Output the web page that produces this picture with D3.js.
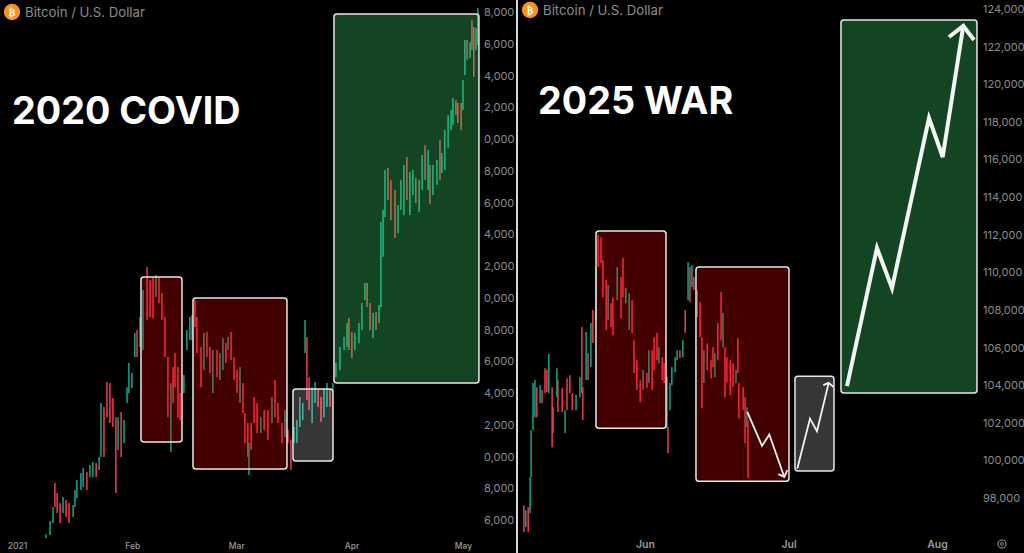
<!DOCTYPE html>
<html><head><meta charset="utf-8">
<script src="https://cdn.jsdelivr.net/npm/d3@7/dist/d3.min.js"></script>
<style>html,body{margin:0;padding:0;background:#000;overflow:hidden}svg{display:block}</style>
</head><body><div id="c"></div>
<script>
// ---------- Left panel data (thousands USD; days since 1 Jan 2021)
const leftDays=[7.8,8.9,9.7,10.2,10.8,11.6,12.4,13.2,14.0,15.1,
15.6,16.1,17.2,17.8,18.8,19.6,20.4,21.3,22.1,22.6,
23.4,24.2,25.0,25.8,26.6,27.2,28.0,28.8,29.6,30.1,
30.9,31.7,32.3,33.1,33.9,35.0,35.8,36.6,37.4,38.2,
39.0,39.8,40.6,41.4,42.0,42.5,43.3,43.9,44.9,45.7,
46.5,47.1,47.9,48.4,49.5,50.3,51.1,51.9,52.7,53.8,
54.6,55.4,56.2,56.8,57.6,58.4,59.2,60.0,60.8,61.3,
62.1,62.4,63.0,63.8,64.6,65.6,66.5,67.5,68.6,69.4,
70.2,71.3,72.1,72.9,73.7,74.5,75.3,76.1,76.9,77.5,
78.0,78.6,79.4,80.2,81.0,81.8,82.6,83.4,84.2,85.0,
85.8,86.9,88.0,88.8,89.3,90.1,90.9,92.0,92.8,93.6,
94.2,95.0,95.8,96.6,97.4,97.9,98.5,99.0,99.8,100.6,
101.7,102.5,103.3,104.1,104.9,105.7,106.5,107.3,108.2,109.0,
109.8,110.6,111.1,111.9,113.0,113.8,114.3,115.1,116.0,116.8,
117.3,118.1,118.6,119.5,120.0,120.5,121.1,121.9,122.4,122.9,
123.5,124.0];
const leftHighs=[25.11,25.93,26.82,28.33,27.70,27.07,27.45,27.26,27.07,26.94,
27.89,28.52,28.96,29.27,29.02,29.46,29.65,29.59,29.97,33.37,
33.12,34.69,34.63,33.68,32.48,32.48,32.80,32.30,34.37,35.89,
35.26,37.78,37.97,38.79,40.49,41.93,41.12,41.31,41.43,41.24,
40.30,38.79,36.27,34.63,35.63,36.52,35.63,34.00,35.13,37.97,
38.79,38.91,39.86,38.79,36.89,37.78,37.84,36.89,36.71,36.71,
36.52,37.46,37.15,37.53,37.84,36.27,35.45,35.63,34.63,32.74,
32.11,30.85,32.11,33.75,33.37,32.48,32.93,32.93,33.75,34.82,
33.37,32.11,32.93,31.67,31.04,31.86,32.30,33.75,33.37,38.60,
37.53,35.00,34.37,34.69,34.19,33.75,34.31,34.63,34.19,34.63,
35.89,36.89,37.53,38.41,38.72,37.84,37.78,38.41,39.67,40.93,
40.93,39.67,39.04,39.10,39.54,44.77,45.53,48.05,48.17,47.42,
46.79,45.84,47.42,48.36,48.87,47.92,48.05,47.54,47.42,48.99,
49.62,49.31,48.36,48.36,48.68,49.94,49.12,50.57,51.51,51.83,
52.58,52.46,52.27,52.27,53.72,56.24,56.24,56.11,57.50,57.06,
56.99,58.25];
const leftLows=[24.86,25.05,25.81,26.82,26.44,25.81,26.44,26.19,25.81,26.19,
26.82,27.39,27.89,28.08,27.89,28.70,28.70,28.70,29.15,29.97,
29.97,32.48,32.11,31.86,27.70,30.41,29.97,30.85,33.37,34.00,
34.31,36.27,36.27,36.89,36.71,38.60,38.79,38.72,40.05,39.67,
38.60,36.27,32.48,30.28,33.37,34.37,32.48,32.30,34.00,36.71,
37.34,37.34,38.16,36.52,34.37,35.45,36.27,35.26,34.00,35.00,
34.82,35.45,35.89,36.71,36.08,34.82,34.00,33.37,32.74,30.85,
29.97,28.83,30.41,32.11,31.48,31.48,31.67,31.04,32.11,32.48,
32.11,30.85,31.22,30.85,29.15,30.85,30.85,31.86,32.30,36.52,
33.56,32.93,32.11,33.37,33.12,32.17,32.48,33.12,33.12,34.19,
35.00,35.45,36.71,36.89,36.71,36.20,36.71,37.15,37.97,39.86,
39.42,37.97,37.46,37.97,38.41,39.42,42.57,45.08,46.16,44.90,
43.76,44.08,45.53,45.21,46.16,45.21,46.47,45.97,45.40,46.79,
47.42,46.79,45.91,46.47,47.10,47.42,47.86,48.05,49.43,50.57,
50.88,51.51,51.01,50.57,51.83,54.03,54.98,55.10,55.61,53.91,
55.61,55.92];
const leftSides=["uuuddduddu","uuuuduuduu","ddddduduuu","uuduudddud","ddduddddu"+"u",
"uuddduddud","uududddudd","duddduddud","ddudduuuuu","dduudduudu",
"uuuudduuuu","dduduuuudd","duuuduuduu","duduuduuuu","uddduududd","uu"].join("");
const leftTickValues=[58,56,54,52,50,48,46,44,42,40,38,36,34,32,30,28,26];
const leftTickLabels=["8,000","6,000","4,000","2,000","0,000","8,000","6,000","4,000","2,000","0,000","8,000","6,000","4,000","2,000","0,000","8,000","6,000"];
const leftTimeTicks=[0,31,59,90,120];
const leftTimeLabels=["2021","Feb","Mar","Apr","May"];

// ---------- Right panel data (thousands USD; days since 1 Jun 2025)
const rightDays=[-25.3,-24.9,-24.4,-24.0,-23.8,-23.4,-23.0,-22.6,-21.9,-21.5,
-20.9,-20.5,-20.1,-19.4,-19.2,-18.4,-18.2,-17.3,-16.7,-16.3,
-15.7,-15.2,-14.4,-13.6,-13.2,-13.0,-12.3,-11.9,-11.3,-10.9,
-10.2,-9.8,-9.2,-8.8,-8.1,-7.7,-7.1,-6.7,-5.8,-5.0,
-4.6,-4.0,-3.3,-2.7,-2.3,-1.7,-1.0,-0.4,0.4,0.8,
1.5,1.9,2.5,2.9,3.6,4.0,4.6,4.8,5.2,5.6,
6.3,6.7,7.3,7.9,8.4,9.0,9.4,9.8,10.2,10.9,
11.5,11.9,12.3,13.0,13.8,14.2,14.6,15.2,15.9,16.3,
16.7,17.1,17.8,18.4,19.0,19.4,19.6,20.5,20.9,21.3,
21.5];
const rightHighs=[97.62,97.35,97.51,99.11,101.61,104.11,104.27,103.89,104.00,103.74,
104.90,104.80,105.65,103.89,102.83,104.90,104.27,103.84,102.67,104.37,
104.53,103.58,103.47,104.42,107.09,103.89,106.82,105.70,107.30,107.99,
110.28,111.98,111.87,110.65,109.59,109.32,108.36,108.68,110.28,109.75,
110.76,109.16,108.89,108.52,106.39,105.33,104.27,104.80,104.64,105.86,
105.86,106.55,106.77,106.02,105.49,105.17,104.42,101.77,104.11,104.96,
105.49,105.86,105.86,106.39,107.99,110.54,110.28,110.38,109.75,109.05,
108.41,106.55,105.86,106.22,105.33,106.02,105.70,107.30,108.95,107.83,
106.02,105.49,105.33,105.17,104.80,106.50,104.11,103.89,103.36,102.83,
102.14];
const rightLows=[96.18,96.45,96.18,97.19,99.11,101.61,102.30,102.30,103.04,103.04,
103.58,103.63,103.58,100.70,101.45,103.36,102.57,102.57,101.45,102.67,
103.58,102.67,102.67,103.36,103.58,102.14,104.27,104.27,104.96,106.24,
107.46,110.28,110.49,108.68,106.93,107.46,107.09,106.66,108.52,107.56,
108.68,108.36,106.93,106.77,104.64,103.74,103.10,103.74,103.84,104.11,
103.74,104.80,105.33,105.17,104.27,104.11,101.71,100.38,102.67,104.00,
104.69,105.33,105.44,105.49,106.77,108.52,108.42,109.21,109.05,107.62,
106.55,102.78,104.11,104.80,104.37,104.96,104.42,105.33,106.39,106.02,
103.36,104.16,103.47,103.89,104.11,104.64,102.24,102.67,100.92,101.77,
99.06];
const rightSides=["duduuuudud","ddudduddud","dduuddudud","uddddudd"+"ud","duuddddudu",
"ddduddu"+"duu","uududududd","ddudddu"+"ddu","ddddudddd"+"u","d"].join("");
const rightTickValues=[124,122,120,118,116,114,112,110,108,106,104,102,100,98];
const rightTickLabels=["124,000","122,000","120,000","118,000","116,000","114,000","112,000","110,000","108,000","106,000","104,000","102,000","100,000","98,000"];
const rightTimeTicks=[0,30,61];
const rightTimeLabels=["Jun","Jul","Aug"];

// ---------- Highlight zones: [day start, day end, value top, value bottom, kind]
const leftZones=[[33.36,44.39,41.31,30.91,"red"],[47.35,72.64,39.98,29.21,"red"],[74.25,85.02,34.25,29.71,"gray"],[85.28,124.29,57.87,34.63,"green"]];
const rightZones=[[-10.24,4.39,112.19,101.71,"red"],[10.65,30.08,110.28,98.89,"red"],[31.33,39.48,104.48,99.43,"gray"],[40.94,69.35,123.42,103.58,"green"]];

// ---------- Arrows drawn on the right panel
const arrowDownDays=[21.37,24.44,25.97,29.1], arrowDownVals=[102.58,100.77,101.38,99.12];
const arrowDownHeadDays=[27.85,29.1,29.73], arrowDownHeadVals=[99.27,99.12,99.48];
const arrowUpDays=[31.82,34.47,35.93,38.37], arrowUpVals=[99.57,102.22,101.55,104.12];
const arrowUpHeadDays=[37.25,38.37,39.34], arrowUpHeadVals=[104.0,104.12,103.91];
const arrowBigDays=[42.2,48.46,51.6,59.33,62.19,66.49], arrowBigVals=[103.95,111.29,109.16,118.2,116.13,123.1];
const arrowBigHeadDays=[63.5,66.49,68.73], arrowBigHeadVals=[122.51,123.1,122.35];

[[leftDays,leftHighs,leftLows,leftSides],[rightDays,rightHighs,rightLows,rightSides]].forEach(a=>{
  if(new Set(a.map(x=>x.length)).size!==1) throw new Error("length mismatch "+a.map(x=>x.length));
});

const W=1024,H=553;
const FONT="Inter, 'Liberation Sans', sans-serif";
const svg=d3.select("#c").append("svg").attr("width",W).attr("height",H).attr("viewBox",`0 0 ${W} ${H}`);
svg.append("rect").attr("width",W).attr("height",H).attr("fill","#000");
const defs=svg.append("defs");
defs.append("filter").attr("id","soft").attr("x","-5%").attr("y","-5%").attr("width","110%").attr("height","110%")
  .append("feGaussianBlur").attr("stdDeviation",0.4);

const zoneFill={red:"rgba(255,0,0,0.262)",green:"rgba(63,227,113,0.30)",gray:"rgba(255,255,255,0.21)"};
const upColor="#0fa58a",downColor="#f23a4a";

function panel(o){
  const x=d3.scaleLinear().domain(o.xDomain).range(o.xRange);
  const y=d3.scaleLinear().domain(o.yDomain).range(o.yRange);
  const g=svg.append("g");
  const candles=d3.range(o.days.length);
  g.append("g").attr("filter","url(#soft)").selectAll("line").data(candles).join("line")
    .attr("x1",i=>x(o.days[i])).attr("x2",i=>x(o.days[i]))
    .attr("y1",i=>y(o.highs[i])).attr("y2",i=>y(o.lows[i]))
    .attr("stroke",i=>o.sides[i]==="u"?upColor:downColor)
    .attr("stroke-width",1.6).attr("stroke-opacity",0.95);
  g.selectAll("rect.z").data(o.zones).join("rect").attr("class","z")
    .attr("x",d=>x(d[0])).attr("width",d=>x(d[1])-x(d[0]))
    .attr("y",d=>y(d[2])).attr("height",d=>y(d[3])-y(d[2]))
    .attr("rx",3).attr("fill",d=>zoneFill[d[4]])
    .attr("stroke","#e8e8e8").attr("stroke-width",1.5);
  // price axis
  const ya=d3.axisRight(y).tickValues(o.tickValues).tickSize(0).tickPadding(0)
    .tickFormat((d,i)=>o.tickLabels[i]);
  const yg=g.append("g").attr("transform",`translate(${o.axisX},0)`).call(ya);
  yg.select(".domain").remove();
  yg.selectAll("text").attr("fill","#8c8c8c").attr("font-family",FONT).attr("font-size",o.axisFont);
  // time axis
  const xa=d3.axisBottom(x).tickValues(o.timeTicks).tickSize(0).tickPadding(0)
    .tickFormat((d,i)=>o.timeLabels[i]);
  const xg=g.append("g").attr("transform",`translate(0,${o.timeY})`).call(xa);
  xg.select(".domain").remove();
  xg.selectAll("text").attr("fill","#9a9a9a").attr("font-family",FONT).attr("font-size",o.timeFont).attr("font-weight",o.timeWeight);
  // header
  g.append("circle").attr("cx",o.iconX).attr("cy",o.iconY).attr("r",8.2).attr("fill","#f7931a");
  g.append("text").attr("x",o.iconX).attr("y",o.iconY+3.5).attr("text-anchor","middle")
    .attr("fill","#fff").attr("font-family","'DejaVu Sans'").attr("font-weight","bold").attr("font-size",10).text("₿");
  g.append("text").attr("x",o.iconX+13).attr("y",o.iconY+4.7).attr("fill","#8e8e8e")
    .attr("font-family",FONT).attr("font-size",13.2).text("Bitcoin / U.S. Dollar");
  g.append("text").attr("x",o.titleX).attr("y",o.titleY).attr("fill","#fff")
    .attr("font-family",FONT).attr("font-weight",700).attr("font-size",37.7).text(o.title);
  return {x,y,g};
}

panel({xDomain:[0,120],xRange:[17,463],yDomain:[58,26],yRange:[12,520],
  days:leftDays,highs:leftHighs,lows:leftLows,sides:leftSides,zones:leftZones,
  tickValues:leftTickValues,tickLabels:leftTickLabels,axisX:484,axisFont:11,
  timeTicks:leftTimeTicks,timeLabels:leftTimeLabels,timeY:543,timeFont:8.5,timeWeight:500,
  iconX:12,iconY:12,title:"2020 COVID",titleX:12,titleY:124});

const R=panel({xDomain:[0,61],xRange:[645,937],yDomain:[124,98],yRange:[9,498],
  days:rightDays,highs:rightHighs,lows:rightLows,sides:rightSides,zones:rightZones,
  tickValues:rightTickValues,tickLabels:rightTickLabels,axisX:983,axisFont:11,
  timeTicks:rightTimeTicks,timeLabels:rightTimeLabels,timeY:541,timeFont:10.5,timeWeight:600,
  iconX:530,iconY:10,title:"2025 WAR",titleX:538,titleY:114});

// arrows
const line=d3.line().x(d=>R.x(d[0])).y(d=>R.y(d[1]));
function arrow(days,vals,hd,hv,w){
  [[days,vals],[hd,hv]].forEach(([a,b])=>{
    R.g.append("path").attr("d",line(a.map((d,i)=>[d,b[i]]))).attr("fill","none")
      .attr("stroke","#f4f4f4").attr("stroke-width",w).attr("stroke-linejoin","miter").attr("stroke-linecap","butt");
  });
}
arrow(arrowDownDays,arrowDownVals,arrowDownHeadDays,arrowDownHeadVals,1.8);
arrow(arrowUpDays,arrowUpVals,arrowUpHeadDays,arrowUpHeadVals,1.8);
arrow(arrowBigDays,arrowBigVals,arrowBigHeadDays,arrowBigHeadVals,4);

// divider
svg.append("rect").attr("x",516).attr("y",0).attr("width",2).attr("height",H).attr("fill","#d8d8d8");
// settings glyph
svg.append("circle").attr("cx",1002).attr("cy",544).attr("r",4).attr("fill","none").attr("stroke","#8c8c8c").attr("stroke-width",1.2);
svg.append("circle").attr("cx",1002).attr("cy",544).attr("r",1.4).attr("fill","none").attr("stroke","#8c8c8c").attr("stroke-width",1);
</script>
</body></html>
